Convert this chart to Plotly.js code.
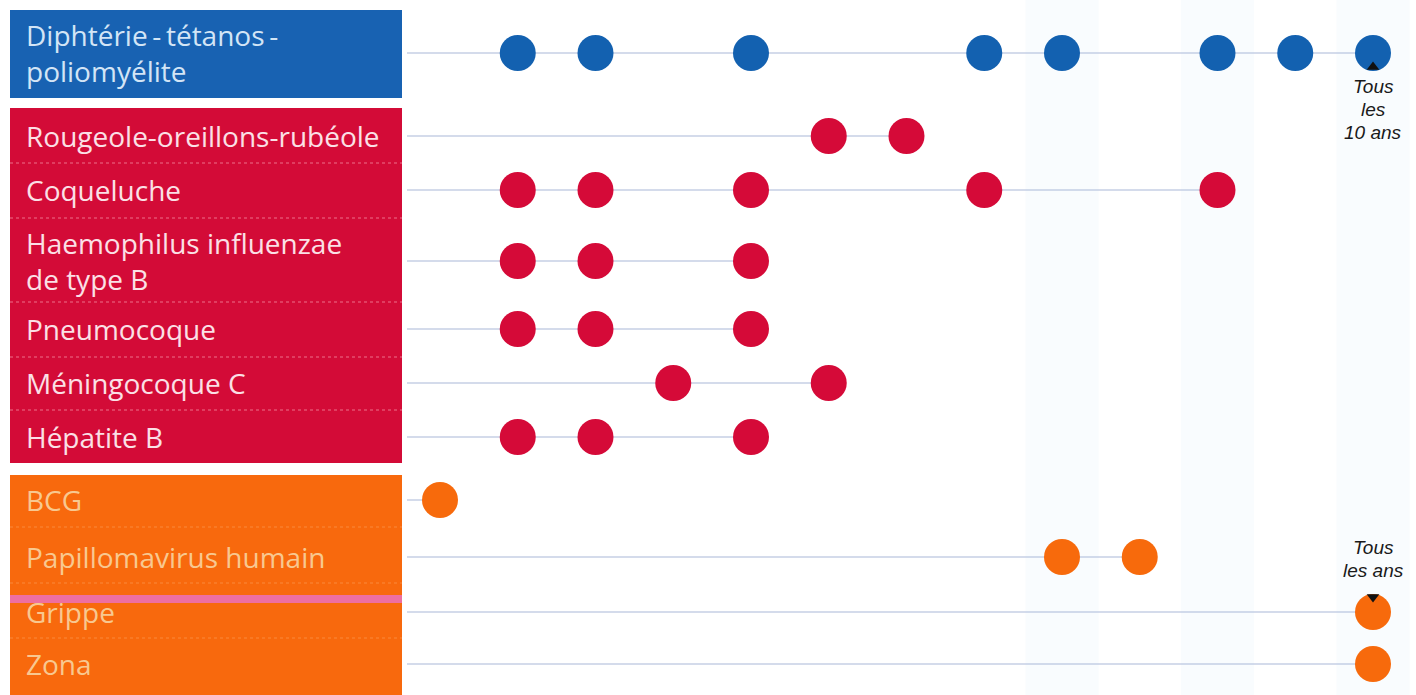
<!DOCTYPE html>
<html>
<head>
<meta charset="utf-8">
<script src="https://cdn.plot.ly/plotly-3.0.1.min.js"></script>
<style>
  html, body { margin: 0; padding: 0; background: #ffffff; }
  #chart { width: 1416px; height: 695px; }
</style>
</head>
<body>
<div id="chart"></div>
<script>
// ---------------- DATA ----------------
// Vaccines (rows, top to bottom)
const vaccines = [
  "Diphtérie\u2009-\u2009tétanos\u2009-<br>poliomyélite",
  "Rougeole-oreillons-rubéole",
  "Coqueluche",
  "Haemophilus influenzae<br>de type B",
  "Pneumocoque",
  "Méningocoque C",
  "Hépatite B",
  "BCG",
  "Papillomavirus humain",
  "Grippe",
  "Zona"
];
// Group of each vaccine (controls colour)
const vaccineGroup = ["dtp", "red", "red", "red", "red", "red", "red", "orange", "orange", "orange", "orange"];
// Schedule columns (index = column on the x axis)
const scheduleSteps = ["0", "1", "2", "3", "4", "5", "6", "7", "8", "9", "10", "11", "12"];
// Doses: column indices of each injection, per vaccine
const doses = [
  [1, 2, 4, 7, 8, 10, 11, 12],
  [5, 6],
  [1, 2, 4, 7, 10],
  [1, 2, 4],
  [1, 2, 4],
  [3, 5],
  [1, 2, 4],
  [0],
  [8, 9],
  [12],
  [12]
];
// Recurrence notes
const noteVaccine = [0, 9];
const noteColumn = [12, 12];
const noteLines = [["Tous", "les", "10 ans"], ["Tous", "les ans"]];
const noteSide = ["below", "above"];

// ---------------- LAYOUT CONFIG ----------------
const W = 1416, H = 695;
const colX0 = 440, colStep = 77.75;            // pixel position of column 0 and spacing
const xr0 = -colX0 / colStep;
const xRange = [xr0, xr0 + W / colStep];
const rowCenter = [53, 136, 190, 261, 329, 383, 437, 500, 557, 612, 664]; // pixel rows
const lineStartPx = 407;
const groupColors = { dtp: "#1361b0", red: "#d50a38", orange: "#f76a0c" };
const boxColors = { dtp: "#1862b2", red: "#d30b37", orange: "#f8690d" };
const textColors = { dtp: "#d3e5f6", red: "#fbe0e6", orange: "#f8c890" };
const boxes = [
  { g: "dtp", y0: 10, y1: 98 },
  { g: "red", y0: 108, y1: 463 },
  { g: "orange", y0: 475, y1: 700 }
];
const redSeps = [163, 218, 302, 357, 410];
const orangeSeps = [527, 583, 638];
const boxX0 = 10, boxX1 = 402, textX = 24;
const noteLineGap = 23;

const px2x = p => xr0 + p / colStep;

// ---------------- BUILD ----------------
const shapes = [];
// very faint vertical bands on some columns
scheduleSteps.forEach((s, i) => {
  if (i % 2 === 0 && i >= 8) {
    shapes.push({ type: "rect", xref: "x", yref: "y", x0: i - 0.47, x1: i + 0.47, y0: 0, y1: H,
      fillcolor: "rgba(215,238,250,0.16)", line: { width: 0 }, layer: "below" });
  }
});
// label boxes
boxes.forEach(b => {
  shapes.push({ type: "rect", xref: "paper", yref: "y", x0: boxX0 / W, x1: boxX1 / W, y0: b.y0, y1: b.y1,
    fillcolor: boxColors[b.g], line: { width: 0 }, layer: "below" });
});
redSeps.forEach(y => shapes.push({ type: "line", xref: "paper", yref: "y", x0: boxX0 / W, x1: boxX1 / W, y0: y, y1: y,
  line: { color: "rgba(255,180,195,0.6)", width: 1, dash: "dot" } }));
orangeSeps.forEach(y => shapes.push({ type: "line", xref: "paper", yref: "y", x0: boxX0 / W, x1: boxX1 / W, y0: y, y1: y,
  line: { color: "rgba(255,200,150,0.35)", width: 1, dash: "dot" } }));
// pink stripe over Grippe
shapes.push({ type: "rect", xref: "paper", yref: "y", x0: boxX0 / W, x1: boxX1 / W, y0: 595, y1: 603,
  fillcolor: "#ee6fa0", line: { width: 0 } });

// row lines (from label box to last dose)
vaccines.forEach((v, i) => {
  const last = Math.max(...doses[i]);
  shapes.push({ type: "line", xref: "x", yref: "y", x0: px2x(lineStartPx), x1: last, y0: rowCenter[i], y1: rowCenter[i],
    line: { color: "#a9b8d8", width: 1.2 }, layer: "below" });
});

const traces = vaccines.map((v, i) => ({
  type: "scatter", mode: "markers",
  x: doses[i], y: doses[i].map(() => rowCenter[i]),
  marker: { size: 36, color: groupColors[vaccineGroup[i]], line: { width: 0 } },
  hoverinfo: "skip", showlegend: false
}));

// note pointers
traces.push({
  type: "scatter", mode: "markers",
  x: noteColumn,
  y: noteVaccine.map((r, k) => noteSide[k] === "below" ? rowCenter[r] + 14 : rowCenter[r] - 15),
  marker: { symbol: noteSide.map(s => s === "below" ? "triangle-up" : "triangle-down"), size: 11, color: "#111", line: { width: 0 } },
  hoverinfo: "skip", showlegend: false
});

const annotations = vaccines.map((v, i) => ({
  xref: "paper", yref: "y", x: textX / W, y: rowCenter[i], xanchor: "left", yanchor: "middle",
  text: v, showarrow: false, align: "left",
  font: { family: "Open Sans, sans-serif", size: 28, color: textColors[vaccineGroup[i]] }
}));
noteLines.forEach((lines, k) => {
  const r = noteVaccine[k];
  const n = lines.length;
  lines.forEach((t, j) => {
    const y = noteSide[k] === "below"
      ? rowCenter[r] + 33 + j * noteLineGap
      : rowCenter[r] - 42 - (n - 1 - j) * noteLineGap;
    annotations.push({
      xref: "x", yref: "y", x: noteColumn[k], y: y, xanchor: "center", yanchor: "middle",
      text: "<i>" + t + "</i>", showarrow: false, borderpad: 0,
      font: { family: "Liberation Sans, Arial, sans-serif", size: 19, color: "#1a1a1a" }
    });
  });
});

const layout = {
  width: W, height: H,
  margin: { l: 0, r: 0, t: 0, b: 0 },
  paper_bgcolor: "#ffffff", plot_bgcolor: "#ffffff",
  xaxis: { range: xRange, visible: false, fixedrange: true },
  yaxis: { range: [H, 0], visible: false, fixedrange: true },
  shapes: shapes, annotations: annotations, showlegend: false
};

Plotly.newPlot("chart", traces, layout, { staticPlot: true, displayModeBar: false });
</script>
</body>
</html>
